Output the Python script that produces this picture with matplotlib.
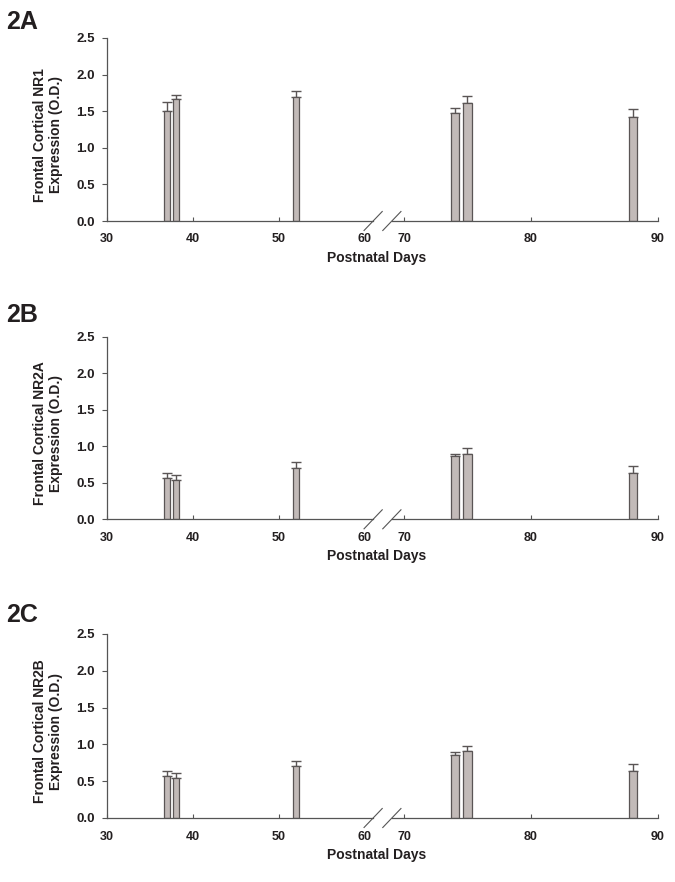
import numpy as np
import matplotlib
matplotlib.use("Agg")
import matplotlib.pyplot as plt

plt.rcParams['font.family'] = ['Liberation Sans', 'DejaVu Sans']
plt.rcParams['font.weight'] = 'bold'

# ---- data ----
days = [37, 38, 52, 74, 75, 88]
nr1_mean = [1.50, 1.66, 1.69, 1.48, 1.61, 1.415]
nr1_sem = [0.12, 0.06, 0.09, 0.06, 0.10, 0.115]
nr2a_mean = [0.57, 0.54, 0.70, 0.86, 0.90, 0.63]
nr2a_sem = [0.06, 0.06, 0.085, 0.04, 0.07, 0.10]
nr2b_mean = [0.57, 0.55, 0.71, 0.86, 0.905, 0.634]
nr2b_sem = [0.064, 0.06, 0.07, 0.04, 0.075, 0.096]

panel_labels = ["2A", "2B", "2C"]
ylabels = ["Frontal Cortical NR1\nExpression (O.D.)",
           "Frontal Cortical NR2A\nExpression (O.D.)",
           "Frontal Cortical NR2B\nExpression (O.D.)"]
xticks = [30, 40, 50, 60, 70, 80, 90]
yticks = [0.0, 0.5, 1.0, 1.5, 2.0, 2.5]

# ---- broken-axis scale (60..70 compressed, 70..90 stretched) ----
G = 4.53
R = 1.477


def forward(x):
    x = np.asarray(x, dtype=float)
    return np.where(x <= 60, x,
                    np.where(x >= 70, 60 + G + (x - 70) * R,
                             60 + (x - 60) * G / 10.0))


def inverse(f):
    f = np.asarray(f, dtype=float)
    return np.where(f <= 60, f,
                    np.where(f >= 60 + G, 70 + (f - 60 - G) / R,
                             60 + (f - 60) * 10.0 / G))


FIG_W, FIG_H = 675, 882
fig = plt.figure(figsize=(FIG_W / 100, FIG_H / 100), dpi=100)

ax_px = [(38, 221), (336.7, 519.3), (634, 818)]  # (top, bottom) in px
left_px, right_px = 107, 658
label_y_px = [22, 315, 615]

bar_face = '#c2bab8'
edge = '#5a5555'
axis_col = '#555555'
text_col = '#231f20'

means = [nr1_mean, nr2a_mean, nr2b_mean]
sems = [nr1_sem, nr2a_sem, nr2b_sem]

for i in range(3):
    top, bot = ax_px[i]
    ax = fig.add_axes([left_px / FIG_W, (FIG_H - bot) / FIG_H,
                       (right_px - left_px) / FIG_W, (bot - top) / FIG_H])
    ax.set_xscale('function', functions=(forward, inverse))
    ax.bar(days, means[i], width=0.64, color=bar_face, edgecolor=edge,
           linewidth=0.9, zorder=2)
    ax.errorbar(days, means[i], yerr=[np.zeros(len(days)), sems[i]],
                fmt='none', ecolor=edge, elinewidth=1.0, capsize=3.8,
                capthick=1.0, zorder=1)
    ax.set_xlim(30, 90)
    ax.set_ylim(0, 2.5)
    ax.set_yticks(yticks)
    ax.set_yticklabels([f"{v:.1f}" for v in yticks])
    major = [t for t in xticks if t != 60]
    ax.set_xticks(major)
    ax.set_xticklabels([str(t) for t in major])
    ax.set_xticks([60], minor=True)
    ax.set_xticklabels(["60"], minor=True)
    ax.tick_params(axis='x', which='major', direction='in', length=3,
                   width=0.8, color=axis_col, pad=9, labelsize=9,
                   labelcolor=text_col)
    ax.tick_params(axis='x', which='minor', direction='in', length=0,
                   pad=9, labelsize=9, labelcolor=text_col)
    ax.tick_params(axis='y', direction='out', length=3.6, width=0.8,
                   color=axis_col, pad=5, labelsize=9.5, labelcolor=text_col)
    for lab in ax.get_xticklabels(which='both') + ax.get_yticklabels():
        lab.set_fontweight('bold')
    for s in ['top', 'right', 'bottom']:
        ax.spines[s].set_visible(False)
    ax.spines['left'].set_color(axis_col)
    ax.spines['left'].set_linewidth(0.9)

    # x axis line with break
    b1, b2 = 0.483, 0.517
    ax.plot([0, b1], [0, 0], transform=ax.transAxes, color=axis_col,
            lw=0.9, clip_on=False)
    ax.plot([b2, 1], [0, 0], transform=ax.transAxes, color=axis_col,
            lw=0.9, clip_on=False)
    dy = 9.5 / (bot - top)
    for c in (b1, b2):
        ax.plot([c - 0.0165, c + 0.0165], [-dy, dy], transform=ax.transAxes,
                color=axis_col, lw=0.8, clip_on=False)

    ax.set_ylabel(ylabels[i], fontsize=10, fontweight='bold', color=text_col,
                  linespacing=1.2)
    ax.yaxis.set_label_coords(-0.08, 0.47)
    ax.set_xlabel("Postnatal Days", fontsize=10, fontweight='bold',
                  color=text_col)
    ax.xaxis.set_label_coords(0.49, -37 / (bot - top), transform=ax.transAxes)
    ax.xaxis.label.set_va('center')

    fig.text(6 / FIG_W, 1 - label_y_px[i] / FIG_H, panel_labels[i],
             fontsize=18, fontweight='bold', ha='left', va='center',
             color=text_col)

fig.savefig("out.png", dpi=100)
